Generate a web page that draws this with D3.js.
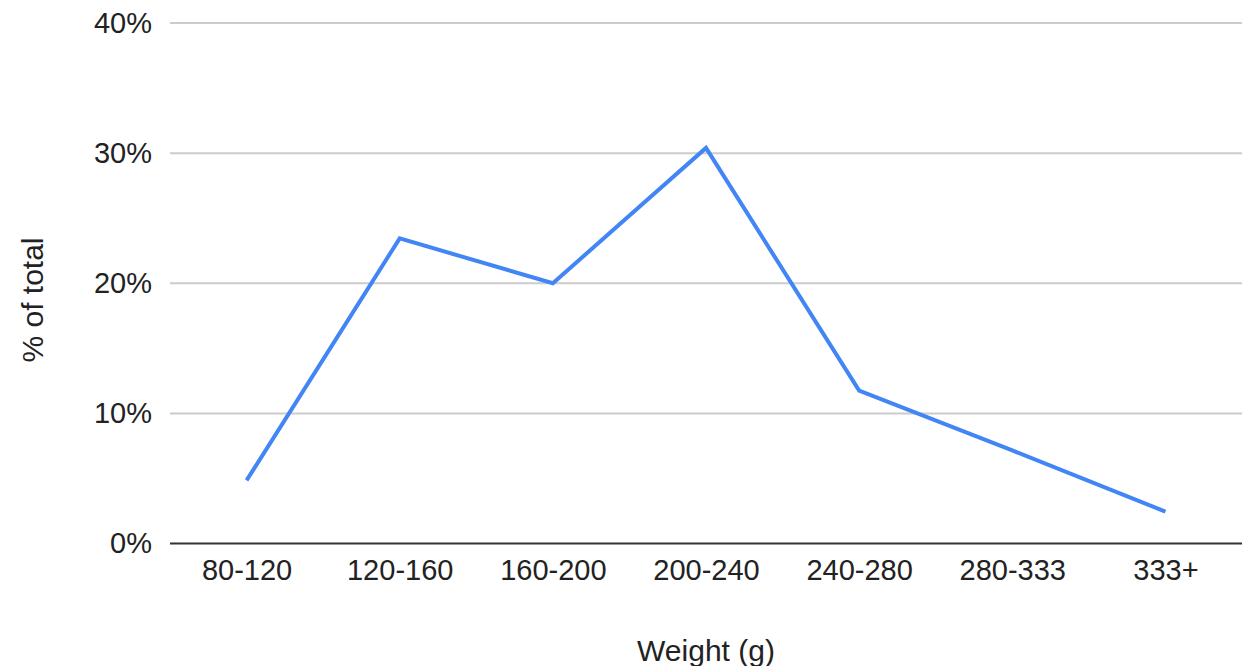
<!DOCTYPE html>
<html><head><meta charset="utf-8">
<script src="https://cdn.jsdelivr.net/npm/d3@7"></script>
<style>body{margin:0;background:#fff}svg{display:block}text{font-family:"Liberation Sans",Arial,sans-serif}</style>
</head><body>
<svg id="c" width="1253" height="666"></svg>
<script>
const categories = ["80-120","120-160","160-200","200-240","240-280","280-333","333+"];
const values = [4.85, 23.45, 20.0, 30.4, 11.75, 7.15, 2.45];
const yTicks = [0, 10, 20, 30, 40];

const svg = d3.select("#c");
const m = {l:170, r:1242, t:23, b:543.5};
const x = d3.scalePoint().domain(categories).range([m.l, m.r]).padding(0.5);
const y = d3.scaleLinear().domain([0,40]).range([m.b, m.t]);

// gridlines
svg.append("g").selectAll("line").data(yTicks.filter(d=>d>0)).join("line")
  .attr("x1", m.l).attr("x2", m.r).attr("y1", d=>y(d)).attr("y2", d=>y(d))
  .attr("stroke", "#cccccc").attr("stroke-width", 2);

// y axis labels
const ya = svg.append("g").attr("transform", `translate(${m.l},0)`)
  .call(d3.axisLeft(y).tickValues(yTicks).tickFormat(d=>d+"%").tickSize(0).tickPadding(18));
ya.select(".domain").remove();
ya.selectAll("text").attr("font-size", 29).attr("fill", "#222").attr("font-family", "Liberation Sans, Arial, sans-serif");

// x axis
const xa = svg.append("g").attr("transform", `translate(0,${m.b})`)
  .call(d3.axisBottom(x).tickSize(0).tickPadding(16));
xa.select(".domain").remove();
xa.selectAll("text").attr("font-size", 29).attr("fill", "#222").attr("font-family", "Liberation Sans, Arial, sans-serif");

svg.append("line").attr("x1", m.l).attr("x2", m.r).attr("y1", m.b).attr("y2", m.b)
  .attr("stroke", "#333").attr("stroke-width", 2);

// line
svg.append("path").datum(values.map((v,i)=>[categories[i], v]))
  .attr("fill", "none").attr("stroke", "#4285F4").attr("stroke-width", 4)
  .attr("stroke-linejoin", "miter")
  .attr("d", d3.line().x(d=>x(d[0])).y(d=>y(d[1])));

// titles
svg.append("text").attr("x", 706).attr("y", 661).attr("text-anchor", "middle")
  .attr("font-size", 30).attr("fill", "#222").text("Weight (g)");
svg.append("text").attr("transform", "translate(43,300) rotate(-90)").attr("text-anchor", "middle")
  .attr("font-size", 30).attr("fill", "#222").text("% of total");
</script>
</body></html>
